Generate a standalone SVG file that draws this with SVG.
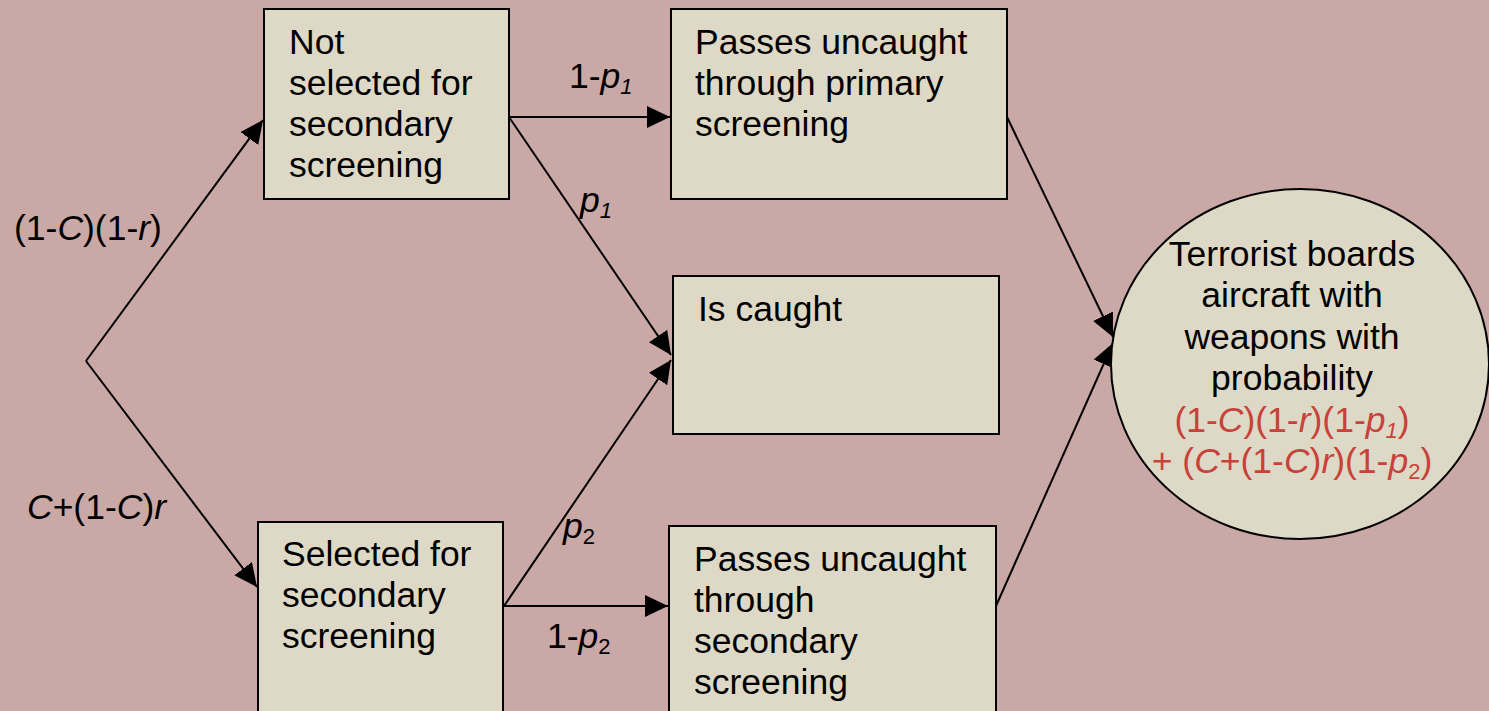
<svg xmlns="http://www.w3.org/2000/svg" width="1489" height="711" viewBox="0 0 1489 711">
<style>
text{font-family:"Liberation Sans",Arial,sans-serif;font-size:35.5px;fill:#000}
.box{fill:#DDD9C6;stroke:#000;stroke-width:2}
.ln{fill:none;stroke:#000;stroke-width:2}
.i{font-style:italic}
.sub{font-size:22px}
.red{fill:#C8423A}
.ctr{text-anchor:middle}
</style>
<defs>
<marker id="ah" markerUnits="userSpaceOnUse" markerWidth="26" markerHeight="24" refX="23" refY="11" orient="auto">
<path d="M0,0 L23,11 L0,22 z" fill="#000"/>
</marker>
</defs>
<rect width="1489" height="711" fill="#C9A8A5"/>
<g id="connectors">
<line class="ln" x1="86" y1="361" x2="263" y2="120" marker-end="url(#ah)"/>
<line class="ln" x1="86" y1="361" x2="257" y2="587" marker-end="url(#ah)"/>
<line class="ln" x1="509" y1="117" x2="670" y2="117" marker-end="url(#ah)"/>
<line class="ln" x1="509" y1="117" x2="671" y2="355" marker-end="url(#ah)"/>
<line class="ln" x1="504" y1="606" x2="671" y2="360" marker-end="url(#ah)"/>
<line class="ln" x1="504" y1="606" x2="668" y2="606" marker-end="url(#ah)"/>
<line class="ln" x1="1007" y1="117" x2="1113" y2="337" marker-end="url(#ah)"/>
<line class="ln" x1="996" y1="606" x2="1113" y2="343" marker-end="url(#ah)"/>
</g>
<g id="labels">
<text x="14" y="240">(1-<tspan class="i">C</tspan>)(1-<tspan class="i">r</tspan>)</text>
<text x="27" y="519"><tspan class="i">C</tspan>+(1-<tspan class="i">C</tspan>)<tspan class="i">r</tspan></text>
<text x="569" y="88">1-<tspan class="i">p</tspan><tspan class="i sub" dy="6">1</tspan></text>
<text x="580" y="212"><tspan class="i">p</tspan><tspan class="i sub" dy="6">1</tspan></text>
<text x="563" y="538"><tspan class="i">p</tspan><tspan class="sub" dy="6">2</tspan></text>
<text x="547" y="648">1-<tspan class="i">p</tspan><tspan class="sub" dy="6">2</tspan></text>
</g>
<g id="not-selected">
<rect class="box" x="264" y="9" width="245" height="190"/>
<text x="289" y="54">Not</text>
<text x="289" y="95">selected for</text>
<text x="289" y="136">secondary</text>
<text x="289" y="177">screening</text>
</g>
<g id="passes-primary">
<rect class="box" x="671" y="9" width="336" height="190"/>
<text x="695" y="54">Passes uncaught</text>
<text x="695" y="95">through primary</text>
<text x="695" y="136">screening</text>
</g>
<g id="is-caught">
<rect class="box" x="673" y="276" width="326" height="158"/>
<text x="698" y="321">Is caught</text>
</g>
<g id="selected">
<rect class="box" x="258" y="522" width="245" height="200"/>
<text x="282" y="566">Selected for</text>
<text x="282" y="607">secondary</text>
<text x="282" y="648">screening</text>
</g>
<g id="passes-secondary">
<rect class="box" x="669" y="526" width="327" height="200"/>
<text x="694" y="571">Passes uncaught</text>
<text x="694" y="612">through</text>
<text x="694" y="653">secondary</text>
<text x="694" y="694">screening</text>
</g>
<g id="boards">
<ellipse class="box" cx="1300" cy="364" rx="189" ry="175"/>
<text class="ctr" x="1292" y="266">Terrorist boards</text>
<text class="ctr" x="1292" y="307">aircraft with</text>
<text class="ctr" x="1292" y="349">weapons with</text>
<text class="ctr" x="1292" y="390">probability</text>
<text class="ctr red" x="1292" y="432">(1-<tspan class="i">C</tspan>)(1-<tspan class="i">r</tspan>)(1-<tspan class="i">p</tspan><tspan class="i sub" dy="6">1</tspan><tspan dy="-6">)</tspan></text>
<text class="ctr red" x="1292" y="473">+ (<tspan class="i">C</tspan>+(1-<tspan class="i">C</tspan>)<tspan class="i">r</tspan>)(1-<tspan class="i">p</tspan><tspan class="sub" dy="6">2</tspan><tspan dy="-6">)</tspan></text>
</g>
</svg>
